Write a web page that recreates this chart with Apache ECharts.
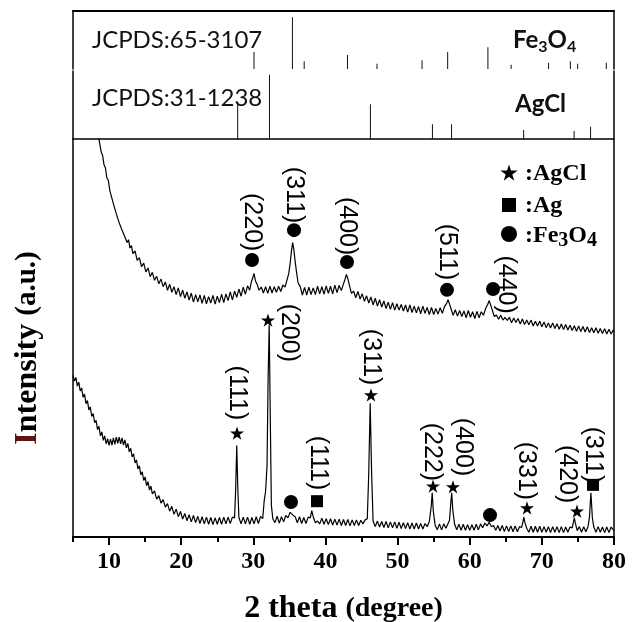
<!DOCTYPE html>
<html>
<head>
<meta charset="utf-8">
<script src="https://cdn.jsdelivr.net/npm/echarts@6/dist/echarts.min.js"></script>
<style>
html,body{margin:0;padding:0;background:#fff}
#chart{width:636px;height:622px}
</style>
</head>
<body>
<div id="chart"></div>
<script>
// Standard reference patterns (2θ in degrees, relative intensity)
const fe3o4RefAngles = [30.09, 35.42, 37.05, 43.05, 47.14, 53.39, 56.94, 62.52, 65.74, 70.93, 73.95, 74.96, 78.93];
const fe3o4RefIntensity = [33, 100, 15, 27, 10, 17, 33, 42, 8, 12, 15, 10, 12];
const agclRefAngles = [27.83, 32.24, 46.23, 54.83, 57.48, 67.47, 74.47, 76.75];
const agclRefIntensity = [55, 100, 54, 23, 23, 14, 12.5, 19];

// Measured scans: [2θ, intensity (a.u.)]
const upperScan = [
[8.5,101],[8.7,98.9],[8.9,96.8],[9.1,95.9],[9.3,93.5],[9.5,92.7],[9.7,90.2],[9.9,89.6],[10.1,87.1],[10.3,86.9],
[10.5,84.4],[10.7,84.3],[10.9,81.8],[11.1,81.9],[11.3,79.5],[11.5,79.9],[11.7,77.5],[11.9,77.9],[12.1,75.8],[12.3,76.2],
[12.5,74.0],[12.7,74.7],[12.9,72.6],[13.1,73.2],[13.3,71.2],[13.6,71.9],[13.9,69.5],[14.2,70.2],[14.5,67.9],[14.8,68.8],
[15.1,66.6],[15.4,67.6],[15.7,65.4],[16.0,66.5],[16.3,64.5],[16.6,65.5],[16.9,63.6],[17.2,64.8],[17.5,62.9],[17.8,64.1],
[18.1,62.0],[18.4,63.5],[18.7,61.5],[19.0,62.9],[19.3,60.9],[19.6,62.6],[19.9,60.4],[20.2,62.0],[20.5,60.0],[20.8,61.6],
[21.1,59.5],[21.4,61.3],[21.7,59.0],[22.0,60.9],[22.3,59.1],[22.6,60.8],[22.9,58.7],[23.2,60.7],[23.5,58.6],[23.8,60.4],
[24.1,58.8],[24.4,60.7],[24.7,58.5],[25.0,60.5],[25.3,58.9],[25.6,61.0],[25.9,58.9],[26.2,61.1],[26.5,59.4],[26.8,61.6],
[27.1,59.6],[27.4,61.8],[27.7,60.2],[28.0,62.3],[28.3,60.5],[28.6,62.8],[28.9,61.0],[29.2,63.1],[29.5,62.0],[29.7,63.9],
[29.9,65.0],[30.1,66.2],[30.3,64.3],[30.5,63.6],[30.8,62.0],[31.1,62.8],[31.4,61.3],[31.7,62.9],[32.0,61.2],[32.3,63.0],
[32.6,61.3],[32.9,62.9],[33.2,61.5],[33.5,63.0],[33.8,61.7],[34.1,63.3],[34.4,62.8],[34.7,64.8],[34.9,66.1],[35.1,68.7],
[35.3,72.1],[35.45,74.0],[35.6,72.4],[35.8,69.2],[36.0,66.4],[36.2,63.9],[36.5,62.9],[36.8,60.8],[37.1,62.7],[37.4,60.8],
[37.7,62.8],[38.0,60.9],[38.3,62.6],[38.6,60.9],[38.9,63.0],[39.2,61.1],[39.5,62.9],[39.8,61.0],[40.1,63.1],[40.4,61.2],
[40.7,63.0],[41.0,61.1],[41.3,63.3],[41.6,61.4],[41.9,63.2],[42.2,61.9],[42.5,63.6],[42.7,64.7],[42.9,66.0],[43.1,64.9],
[43.3,63.4],[43.6,61.2],[43.9,61.8],[44.2,60.1],[44.5,61.7],[44.8,59.8],[45.1,61.1],[45.4,59.2],[45.7,60.6],[46.0,58.8],
[46.3,60.3],[46.6,58.3],[46.9,60.0],[47.2,58.0],[47.5,59.6],[47.8,57.8],[48.1,59.3],[48.4,57.4],[48.7,59.0],[49.0,57.2],
[49.3,58.9],[49.6,57.0],[49.9,58.6],[50.2,57.0],[50.5,58.4],[50.8,56.8],[51.1,58.3],[51.4,56.5],[51.7,58.3],[52.0,56.4],
[52.3,58.0],[52.6,56.3],[52.9,57.9],[53.2,56.1],[53.5,58.0],[53.8,56.2],[54.1,57.7],[54.4,55.9],[54.7,57.7],[55.0,55.9],
[55.3,57.4],[55.6,56.0],[55.9,57.6],[56.2,56.2],[56.5,57.9],[56.8,58.7],[57.0,59.6],[57.2,58.5],[57.4,57.4],[57.7,55.7],
[58.0,57.1],[58.3,55.5],[58.6,56.9],[58.9,55.4],[59.2,56.8],[59.5,55.1],[59.8,56.9],[60.1,55.2],[60.4,56.6],[60.7,54.9],
[61.0,56.7],[61.3,55.1],[61.6,56.6],[61.9,55.7],[62.2,57.4],[62.5,58.5],[62.7,59.4],[62.9,58.3],[63.1,57.2],[63.4,55.4],
[63.7,55.8],[64.0,54.7],[64.3,55.7],[64.6,54.5],[64.9,55.2],[65.2,54.4],[65.5,55.2],[65.8,53.8],[66.1,55.0],[66.4,53.9],
[66.7,54.9],[67.0,53.5],[67.3,54.8],[67.6,53.4],[67.9,54.5],[68.2,53.3],[68.5,54.5],[68.8,53.0],[69.1,54.2],[69.4,53.0],
[69.7,54.2],[70.0,52.8],[70.3,54.0],[70.6,52.6],[70.9,53.8],[71.2,52.5],[71.5,53.8],[71.8,52.4],[72.1,53.6],[72.4,52.2],
[72.7,53.5],[73.0,52.1],[73.3,53.4],[73.6,52.0],[73.9,53.2],[74.2,51.9],[74.5,53.1],[74.8,51.7],[75.1,53.0],[75.4,51.6],
[75.7,52.9],[76.0,51.5],[76.3,52.8],[76.6,51.4],[76.9,52.6],[77.2,51.3],[77.5,52.6],[77.8,51.2],[78.1,52.4],[78.4,51.1],
[78.7,52.3],[79.0,51.0],[79.3,52.2],[79.6,51.0],[79.9,52.0],[80.0,51.6]
];

const compositeScan = [
[5.0,40.6],[5.2,39.2],[5.4,40.1],[5.6,37.9],[5.8,38.9],[6.0,36.7],[6.2,37.4],[6.4,35.1],[6.6,35.9],[6.8,33.5],
[7.0,34.3],[7.2,31.9],[7.4,32.7],[7.6,30.3],[7.8,31.0],[8.0,28.7],[8.2,29.3],[8.4,27.0],[8.6,27.8],[8.8,25.4],
[9.0,26.4],[9.2,24.3],[9.4,25.4],[9.6,23.4],[9.8,24.7],[10.0,23.0],[10.2,24.6],[10.4,23.1],[10.6,24.9],[10.8,23.3],
[11.0,25.1],[11.2,23.5],[11.4,25.1],[11.6,23.4],[11.8,24.9],[12.0,23.1],[12.2,24.4],[12.4,22.4],[12.6,23.5],[12.8,21.4],
[13.0,22.3],[13.2,20.1],[13.4,20.9],[13.6,18.6],[13.8,19.4],[14.0,17.1],[14.2,17.9],[14.4,15.6],[14.6,16.4],[14.8,14.2],
[15.0,15.1],[15.2,12.9],[15.4,13.9],[15.6,11.8],[15.8,12.8],[16.0,10.8],[16.3,11.6],[16.6,9.5],[16.9,10.4],[17.2,8.5],
[17.5,9.4],[17.8,7.5],[18.1,8.4],[18.4,6.5],[18.7,7.7],[19.0,5.7],[19.3,7.0],[19.6,5.1],[19.9,6.4],[20.2,4.5],
[20.5,5.9],[20.8,4.1],[21.1,5.6],[21.4,3.8],[21.7,5.4],[22.0,3.6],[22.3,5.2],[22.6,3.4],[22.9,5.1],[23.2,3.3],
[23.5,5.0],[23.8,3.2],[24.1,4.9],[24.4,3.1],[24.7,4.8],[25.0,3.2],[25.3,4.9],[25.6,3.2],[25.9,5.0],[26.2,3.3],
[26.5,5.0],[26.8,3.4],[27.1,5.0],[27.4,4.8],[27.55,12.0],[27.7,23.0],[27.85,12.0],[28.0,4.9],[28.3,3.3],[28.6,5.0],
[28.9,3.3],[29.2,5.0],[29.5,3.2],[29.8,4.9],[30.1,3.3],[30.4,5.1],[30.7,3.4],[31.0,5.2],[31.3,4.6],[31.5,9.0],
[31.7,11.5],[31.9,18.0],[32.05,40.0],[32.2,53.4],[32.35,30.0],[32.5,8.0],[32.7,4.6],[33.0,3.6],[33.3,5.2],[33.6,3.5],
[33.9,5.1],[34.2,3.8],[34.5,5.4],[34.8,4.8],[35.1,6.2],[35.3,6.4],[35.5,5.5],[35.8,5.1],[36.1,3.6],[36.4,5.1],
[36.7,3.4],[37.0,4.9],[37.3,3.4],[37.6,5.0],[37.9,4.8],[38.1,6.6],[38.3,5.1],[38.6,3.6],[38.9,4.0],[39.2,3.3],
[39.5,4.7],[39.8,3.2],[40.1,4.6],[40.4,3.1],[40.7,4.6],[41.0,3.0],[41.3,4.5],[41.6,3.0],[41.9,4.5],[42.2,2.9],
[42.5,4.4],[42.8,2.9],[43.1,4.4],[43.4,2.8],[43.7,4.3],[44.0,2.9],[44.3,4.3],[44.6,2.9],[44.9,4.2],[45.2,3.3],
[45.5,4.3],[45.8,4.6],[46.0,16.0],[46.2,33.6],[46.4,16.0],[46.6,4.0],[46.9,2.6],[47.2,4.0],[47.5,2.5],[47.8,3.9],
[48.1,2.4],[48.4,3.9],[48.7,2.3],[49.0,3.8],[49.3,2.3],[49.6,3.8],[49.9,2.2],[50.2,3.7],[50.5,2.1],[50.8,3.6],
[51.1,2.1],[51.4,3.6],[51.7,2.0],[52.0,3.5],[52.3,2.0],[52.6,3.5],[52.9,2.0],[53.2,3.4],[53.5,2.0],[53.8,3.4],
[54.1,2.6],[54.4,3.9],[54.65,7.5],[54.8,11.1],[54.95,6.5],[55.2,3.0],[55.5,1.8],[55.8,3.3],[56.1,1.8],[56.4,3.3],
[56.7,2.2],[57.0,3.4],[57.2,4.2],[57.35,8.0],[57.5,11.1],[57.65,6.8],[57.9,3.2],[58.2,1.8],[58.5,3.2],[58.8,1.7],
[59.1,3.2],[59.4,1.7],[59.7,3.1],[60.0,1.7],[60.3,3.1],[60.6,1.7],[60.9,3.2],[61.2,1.8],[61.5,3.3],[61.8,2.3],
[62.1,3.5],[62.4,2.8],[62.7,3.7],[63.0,2.6],[63.3,2.9],[63.6,1.7],[63.9,2.9],[64.2,1.5],[64.5,2.9],[64.8,1.4],
[65.1,2.8],[65.4,1.4],[65.7,2.8],[66.0,1.3],[66.3,2.8],[66.6,1.3],[66.9,2.6],[67.2,2.4],[67.4,4.0],[67.5,5.0],
[67.65,3.6],[67.9,2.2],[68.2,1.2],[68.5,2.7],[68.8,1.2],[69.1,2.7],[69.4,1.2],[69.7,2.7],[70.0,1.2],[70.3,2.6],
[70.6,1.2],[70.9,2.6],[71.2,1.1],[71.5,2.6],[71.8,1.2],[72.1,2.6],[72.4,1.1],[72.7,2.6],[73.0,1.1],[73.3,2.5],
[73.6,1.2],[73.9,2.5],[74.2,2.3],[74.4,4.0],[74.5,4.8],[74.65,3.4],[74.9,1.6],[75.2,2.6],[75.5,1.2],[75.8,2.6],
[76.1,1.3],[76.4,2.6],[76.6,5.0],[76.8,11.1],[77.0,4.8],[77.2,2.5],[77.5,1.2],[77.8,2.6],[78.1,1.2],[78.4,2.5],
[78.7,1.1],[79.0,2.5],[79.3,1.1],[79.6,2.5],[80.0,1.6]
];

// Axis ticks
const majorTicks = [10, 20, 30, 40, 50, 60, 70, 80];
const minorTicks = [5, 15, 25, 35, 45, 55, 65, 75];

// Peak annotations: phase symbol position and hkl label position in (2θ, intensity)
const upperPeakNotes = [
  { hkl: '(220)', phase: 'Fe3O4', mark: [29.82, 69.6], text: [29.75, 79.1] },
  { hkl: '(311)', phase: 'Fe3O4', mark: [35.64, 77.1], text: [35.64, 85.9] },
  { hkl: '(400)', phase: 'Fe3O4', mark: [42.99, 69.1], text: [42.99, 78.1] },
  { hkl: '(511)', phase: 'Fe3O4', mark: [56.85, 62.1], text: [56.85, 71.6] },
  { hkl: '(440)', phase: 'Fe3O4', mark: [63.23, 62.3], text: [65.03, 63.4] }
];
const compositePeakNotes = [
  { hkl: '(111)', phase: 'AgCl', mark: [27.74, 26.1], text: [27.74, 36.2] },
  { hkl: '(200)', phase: 'AgCl', mark: [32.03, 54.5], text: [34.94, 51.3] },
  { hkl: '',      phase: 'Fe3O4', mark: [35.22, 8.8], text: null },
  { hkl: '(111)', phase: 'Ag',   mark: [38.83, 9.0], text: [38.97, 18.6] },
  { hkl: '(311)', phase: 'AgCl', mark: [46.31, 35.7], text: [46.31, 45.2] },
  { hkl: '(222)', phase: 'AgCl', mark: [54.91, 12.8], text: [54.77, 21.4] },
  { hkl: '(400)', phase: 'AgCl', mark: [57.68, 12.6], text: [59.07, 22.6] },
  { hkl: '',      phase: 'Fe3O4', mark: [62.81, 5.5], text: null },
  { hkl: '(331)', phase: 'AgCl', mark: [67.94, 7.3], text: [67.8, 16.6] },
  { hkl: '(420)', phase: 'AgCl', mark: [74.87, 6.5], text: [73.42, 15.8] },
  { hkl: '(311)', phase: 'Ag',   mark: [77.09, 13.1], text: [77.09, 20.6] }
];

const STAR = 'path://M50,2 L61.2,36.6 L97.6,36.6 L68.2,58 L79.4,92.6 L50,71.2 L20.6,92.6 L31.8,58 L2.4,36.6 L38.8,36.6 Z';
const phaseSymbol = {
  AgCl:  { symbol: STAR, size: 14 },
  Ag:    { symbol: 'rect', size: 12 },
  Fe3O4: { symbol: 'circle', size: 14 }
};

function notePoints(notes) {
  const out = [];
  notes.forEach(n => {
    const s = phaseSymbol[n.phase];
    out.push({ coord: n.mark, symbol: s.symbol, symbolSize: s.size, symbolKeepAspect: true,
               itemStyle: { color: '#000' }, label: { show: false } });
    if (n.text) {
      out.push({ coord: n.text, symbol: 'rect', symbolSize: 1,
                 itemStyle: { color: 'rgba(0,0,0,0)' },
                 label: { show: true, position: 'inside', rotate: -90, formatter: n.hkl,
                          fontFamily: '"Liberation Sans", Arial, sans-serif', fontSize: 25, color: '#000' } });
    }
  });
  return out;
}

const pair = (xs, ys) => xs.map((x, i) => [x, ys[i]]);

const frameLine = { show: true, onZero: false, lineStyle: { color: '#000', width: 1.5 } };
const bareAxis = { axisTick: { show: false }, axisLabel: { show: false }, splitLine: { show: false } };

const serif = '"Liberation Serif", "Times New Roman", serif';

const chart = echarts.init(document.getElementById('chart'), null, { renderer: 'canvas' });

chart.setOption({
  animation: false,
  backgroundColor: '#fff',
  grid: [
    { left: 73, width: 541, top: 11, height: 58, outerBoundsMode: 'none', containLabel: false },
    { left: 73, width: 541, top: 71, height: 68, outerBoundsMode: 'none', containLabel: false },
    { left: 73, width: 541, top: 139, height: 398, outerBoundsMode: 'none', containLabel: false,
      show: true, borderColor: '#000', borderWidth: 1.5 }
  ],
  xAxis: [
    Object.assign({ gridIndex: 0, type: 'value', min: 5, max: 80, position: 'top',
      axisLine: { show: true, onZero: false, lineStyle: { color: '#000', width: 2 } } }, bareAxis),
    Object.assign({ gridIndex: 1, type: 'value', min: 5, max: 80, position: 'bottom',
      axisLine: { show: false } }, bareAxis),
    {
      gridIndex: 2, type: 'value', min: 5, max: 80, position: 'bottom',
      axisLine: { show: true, onZero: false, lineStyle: { color: '#000', width: 2 } },
      axisTick: { show: true, customValues: majorTicks, length: 8, lineStyle: { color: '#000', width: 2 } },
      axisLabel: { show: true, customValues: majorTicks, margin: 13, color: '#000',
                   fontFamily: serif, fontWeight: 'bold', fontSize: 24 },
      splitLine: { show: false },
      name: '2 theta {s|(degree)}',
      nameLocation: 'middle', nameGap: 56, nameMoveOverlap: false,
      nameTextStyle: { color: '#000', fontFamily: serif, fontWeight: 'bold', fontSize: 32,
        rich: { s: { fontFamily: serif, fontWeight: 'bold', fontSize: 28, color: '#000' } } }
    },
    {
      gridIndex: 2, type: 'value', min: 5, max: 80, position: 'bottom',
      axisLine: { show: false },
      axisTick: { show: true, customValues: minorTicks, length: 5, lineStyle: { color: '#000', width: 2 } },
      axisLabel: { show: false }, splitLine: { show: false }
    }
  ],
  yAxis: [
    Object.assign({ gridIndex: 0, type: 'value', min: 0, max: 112, position: 'left', axisLine: frameLine }, bareAxis),
    Object.assign({ gridIndex: 0, type: 'value', min: 0, max: 112, position: 'right', axisLine: frameLine }, bareAxis),
    Object.assign({ gridIndex: 1, type: 'value', min: 0, max: 106, position: 'left', axisLine: frameLine }, bareAxis),
    Object.assign({ gridIndex: 1, type: 'value', min: 0, max: 106, position: 'right', axisLine: frameLine }, bareAxis),
    Object.assign({ gridIndex: 2, type: 'value', min: 0, max: 100, position: 'left', axisLine: { show: false },
      name: '{r|I}ntensity {s|(a.u.)}', nameLocation: 'middle', nameRotate: 90, nameGap: 29, nameMoveOverlap: false,
      nameTextStyle: { color: '#000', fontFamily: serif, fontWeight: 'bold', fontSize: 32,
        padding: [0, 20, 0, 0],
        rich: {
          r: { color: '#5c1414', fontFamily: serif, fontWeight: 'bold', fontSize: 32 },
          s: { color: '#000', fontFamily: serif, fontWeight: 'bold', fontSize: 29 }
        } } }, bareAxis)
  ],
  series: [
    { type: 'bar', xAxisIndex: 0, yAxisIndex: 0, barWidth: 1, itemStyle: { color: '#111' },
      data: pair(fe3o4RefAngles, fe3o4RefIntensity), silent: true },
    { type: 'bar', xAxisIndex: 1, yAxisIndex: 2, barWidth: 1, itemStyle: { color: '#111' },
      data: pair(agclRefAngles, agclRefIntensity), silent: true },
    { type: 'line', xAxisIndex: 2, yAxisIndex: 4, data: upperScan, showSymbol: false, clip: true,
      lineStyle: { color: '#000', width: 1.2 }, silent: true,
      markPoint: { animation: false, data: notePoints(upperPeakNotes) } },
    { type: 'line', xAxisIndex: 2, yAxisIndex: 4, data: compositeScan, showSymbol: false, clip: true,
      lineStyle: { color: '#000', width: 1.2 }, silent: true,
      markPoint: { animation: false, data: notePoints(compositePeakNotes) } }
  ],
  graphic: [
    { type: 'text', x: 92, y: 40, style: { text: 'JCPDS:65-3107', fontFamily: 'Lato, "Open Sans", sans-serif', fontSize: 24, fill: '#111', verticalAlign: 'middle' } },
    { type: 'text', x: 92, y: 98, style: { text: 'JCPDS:31-1238', fontFamily: 'Lato, "Open Sans", sans-serif', fontSize: 24, fill: '#111', verticalAlign: 'middle' } },
    { type: 'text', x: 513, y: 40, style: {
        text: '{b|Fe}{s|3}{b|O}{s|4}', verticalAlign: 'middle',
        rich: {
          b: { fontFamily: 'Lato, sans-serif', fontWeight: 'bold', fontSize: 24, fill: '#111', lineHeight: 30 },
          s: { fontFamily: 'Lato, sans-serif', fontWeight: 'bold', fontSize: 16, fill: '#111', lineHeight: 16, verticalAlign: 'bottom' }
        } } },
    { type: 'text', x: 515, y: 104, style: { text: 'AgCl', fontFamily: 'Lato, sans-serif', fontWeight: 'bold', fontSize: 24, fill: '#111', verticalAlign: 'middle' } },

    { type: 'polygon', shape: { points: [[509,164.4],[511,170.6],[517.6,170.6],[512.3,174.4],[514.3,180.7],[509,176.8],[503.7,180.7],[505.7,174.4],[500.4,170.6],[507,170.6]] }, style: { fill: '#000' } },
    { type: 'text', x: 525, y: 174, style: { text: ':AgCl', fontFamily: serif, fontWeight: 'bold', fontSize: 24, fill: '#000', verticalAlign: 'middle' } },
    { type: 'rect', shape: { x: 502, y: 198, width: 14, height: 14 }, style: { fill: '#000' } },
    { type: 'text', x: 525, y: 206, style: { text: ':Ag', fontFamily: serif, fontWeight: 'bold', fontSize: 24, fill: '#000', verticalAlign: 'middle' } },
    { type: 'circle', shape: { cx: 509, cy: 234, r: 8 }, style: { fill: '#000' } },
    { type: 'text', x: 525, y: 236, style: {
        text: '{b|:Fe}{s|3}{b|O}{s|4}', verticalAlign: 'middle',
        rich: {
          b: { fontFamily: serif, fontWeight: 'bold', fontSize: 24, fill: '#000', lineHeight: 30 },
          s: { fontFamily: serif, fontWeight: 'bold', fontSize: 20, fill: '#000', lineHeight: 20, verticalAlign: 'bottom' }
        } } }
  ]
});
</script>
</body>
</html>
